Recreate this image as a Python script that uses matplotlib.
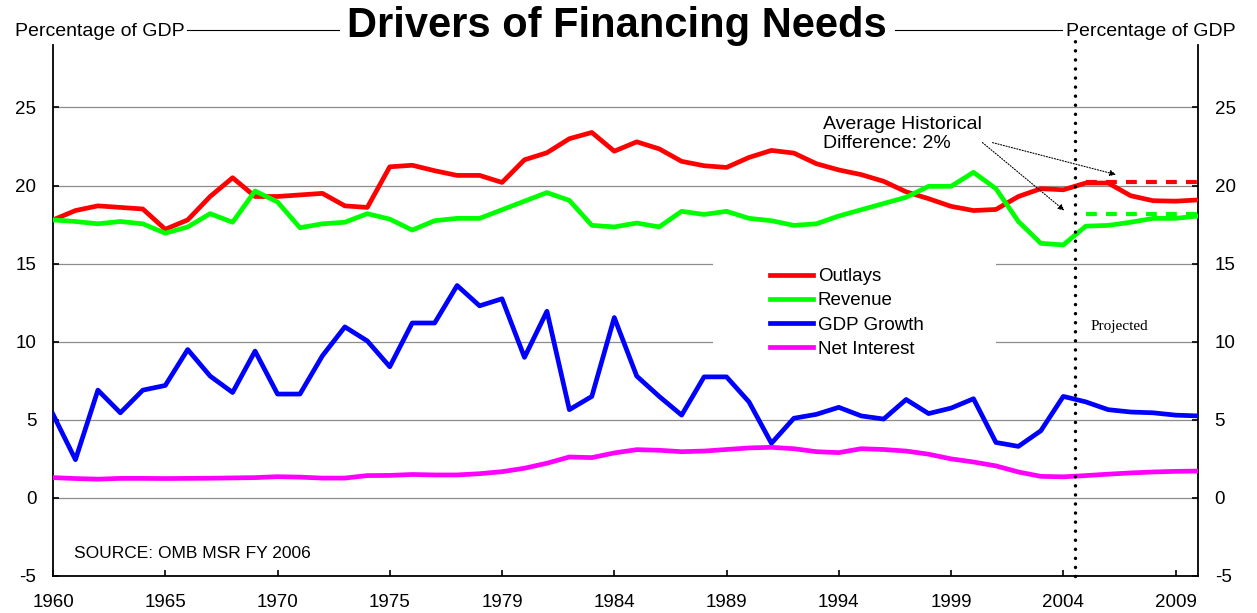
import matplotlib
matplotlib.use("Agg")
import matplotlib.pyplot as plt
from matplotlib.lines import Line2D
from matplotlib.patches import Rectangle

plt.rcParams["font.family"] = ["Liberation Sans", "DejaVu Sans"]
plt.rcParams["axes.unicode_minus"] = False

# categories: fiscal years, including the 1976 transition quarter
years = [str(y) for y in range(1960, 1977)] + ["TQ"] + [str(y) for y in range(1977, 2011)]

# percent of GDP
outlays = [17.8, 18.4, 18.7, 18.6, 18.5, 17.2, 17.8, 19.3, 20.5, 19.3,
           19.3, 19.4, 19.5, 18.7, 18.6, 21.2, 21.3, 20.95, 20.65, 20.65,
           20.2, 21.65, 22.1, 23.0, 23.4, 22.2, 22.8, 22.35, 21.55, 21.27,
           21.16, 21.8, 22.25, 22.08, 21.4, 21.0, 20.7, 20.27, 19.6, 19.16,
           18.67, 18.4, 18.47, 19.3, 19.8, 19.73, 20.16, 20.16, 19.35, 19.03,
           19.0, 19.08]
revenue = [17.8, 17.7, 17.55, 17.7, 17.55, 16.95, 17.35, 18.2, 17.65, 19.65,
           18.95, 17.3, 17.55, 17.65, 18.2, 17.85, 17.15, 17.75, 17.9, 17.9,
           18.45, 19.0, 19.55, 19.05, 17.45, 17.35, 17.6, 17.35, 18.35, 18.15,
           18.35, 17.9, 17.75, 17.45, 17.55, 18.05, 18.45, 18.85, 19.25, 19.95,
           19.95, 20.85, 19.8, 17.7, 16.3, 16.2, 17.4, 17.45, 17.65, 17.9,
           17.9, 18.05]
gdp_growth = [5.35, 2.45, 6.9, 5.45, 6.9, 7.2, 9.5, 7.8, 6.75, 9.4,
              6.65, 6.65, 9.1, 10.95, 10.05, 8.4, 11.2, 11.2, 13.6, 12.3,
              12.75, 9.0, 11.95, 5.65, 6.5, 11.55, 7.8, 6.5, 5.3, 7.75,
              7.75, 6.15, 3.5, 5.1, 5.35, 5.8, 5.25, 5.05, 6.3, 5.4,
              5.75, 6.35, 3.55, 3.3, 4.3, 6.5, 6.15, 5.65, 5.5, 5.45,
              5.3, 5.25]
net_interest = [1.3, 1.24, 1.2, 1.25, 1.25, 1.24, 1.25, 1.26, 1.28, 1.3,
                1.36, 1.33, 1.27, 1.27, 1.43, 1.44, 1.5, 1.47, 1.47, 1.55,
                1.68, 1.9, 2.22, 2.62, 2.58, 2.88, 3.09, 3.05, 2.96, 3.0,
                3.1, 3.2, 3.24, 3.15, 2.96, 2.9, 3.15, 3.1, 3.0, 2.8,
                2.5, 2.3, 2.05, 1.66, 1.38, 1.35, 1.43, 1.52, 1.6, 1.66,
                1.7, 1.72]

# historical averages carried over the projection years
avg_outlays = 20.2
avg_revenue = 18.15
proj_start = "2005"
last_actual = "2004"

W, H = 1257, 613
fig = plt.figure(figsize=(W / 100, H / 100), dpi=100)
ax = fig.add_axes([53 / W, 1 - 576 / H, (1198 - 53) / W, (576 - 45) / H])

x = list(range(len(years)))
lw = 3.4
ax.plot(x, outlays, color="#ff0000", lw=lw, label="Outlays", zorder=3)
ax.plot(x, revenue, color="#00ff00", lw=lw, label="Revenue", zorder=3)
ax.plot(x, gdp_growth, color="#0000ff", lw=lw, label="GDP Growth", zorder=3)
ax.plot(x, net_interest, color="#ff00ff", lw=lw, label="Net Interest", zorder=3)

i0 = years.index(proj_start)
xs = x[i0:]
ax.plot(xs, [avg_outlays] * len(xs), color="#ff0000", lw=3.0,
        linestyle=(0, (2.6, 2.2)), zorder=3)
ax.plot(xs, [avg_revenue] * len(xs), color="#00ff00", lw=3.0,
        linestyle=(0, (2.6, 2.2)), zorder=3)

ax.axvline(years.index(last_actual) + 0.5, ymin=0, ymax=1.013, color="black",
           lw=2.5, linestyle=(0, (0.01, 2.6)), dash_capstyle="round",
           clip_on=False, zorder=4)

ax.set_xlim(0, len(years) - 1)
ax.set_ylim(-5, 29)
ax.set_yticks(range(-5, 30, 5))
ax.set_xticks(x[::5])
ax.set_xticklabels(years[::5])

ax.grid(axis="y", color="#8c8c8c", lw=0.9)
ax.set_axisbelow(True)
for s in ("left", "right", "bottom"):
    ax.spines[s].set_linewidth(1.3)
ax.spines["top"].set_visible(False)
ax.yaxis.set_ticks_position("both")
ax.tick_params(axis="y", direction="in", length=4, width=1.2, labelsize=13.5,
               pad=12, labelright=True)
ax.tick_params(axis="x", direction="in", length=4, width=1.2, labelsize=13.5,
               pad=13)

# white box behind the legend (hides the gridlines there)
ax.add_patch(Rectangle((29.4, 8.6), 12.6, 7.6, facecolor="white",
                       edgecolor="none", zorder=1.5))
ax.legend(loc="upper left", bbox_to_anchor=(770 / W, 1 - 268 / H),
          bbox_transform=fig.transFigure, frameon=False, fontsize=13.5,
          handlelength=2.3, handletextpad=0.25, labelspacing=0.38,
          borderpad=0, borderaxespad=0)

ax.text(46.2, 11.0, "Projected", family=["Liberation Serif", "DejaVu Serif"],
        fontsize=11, va="center", ha="left")
ax.text(0.95, -3.55, "SOURCE: OMB MSR FY 2006", fontsize=12.5, va="center",
        ha="left")

ax.text(34.3, 23.3, "Average Historical\nDifference: 2%", fontsize=14,
        va="center", ha="left", linespacing=1.1)
arrow = dict(arrowstyle="-|>", linestyle=(0, (1, 1.5)), lw=0.8,
             color="black", mutation_scale=9, shrinkA=0, shrinkB=0)
ax.annotate("", xy=(47.35, 20.7), xytext=(41.85, 22.75), arrowprops=arrow)
ax.annotate("", xy=(45.05, 18.4), xytext=(41.4, 22.75), arrowprops=arrow)

# header: units on both sides joined by rules to the title
title = fig.text(617 / W, 1 - 26 / H, "Drivers of Financing Needs",
                 fontsize=30, fontweight="bold", ha="center", va="center")
left_lbl = fig.text(15 / W, 1 - 31 / H, "Percentage of GDP", fontsize=14,
                    ha="left", va="center")
right_lbl = fig.text(1236 / W, 1 - 31 / H, "Percentage of GDP", fontsize=14,
                     ha="right", va="center")

fig.canvas.draw()
r = fig.canvas.get_renderer()
bl = left_lbl.get_window_extent(r)
bt = title.get_window_extent(r)
br = right_lbl.get_window_extent(r)
yl = (H - 30) / H
for x0, x1 in ((bl.x1 + 2, bt.x0 - 8), (bt.x1 + 8, br.x0 - 4)):
    fig.add_artist(Line2D([x0 / W, x1 / W], [yl, yl], transform=fig.transFigure,
                          color="black", lw=0.8))

fig.savefig("out.png", dpi=100)
